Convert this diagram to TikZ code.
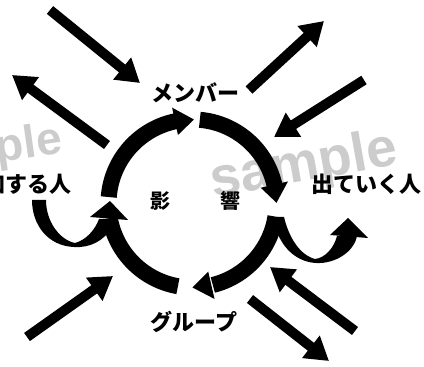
\documentclass[tikz,border=0pt]{standalone}
\usepackage{fontspec}
\newfontfamily\jp{Noto Sans CJK JP}
\newfontfamily\wm{Liberation Sans}
\usetikzlibrary{arrows.meta,calc}
\begin{document}
\begin{tikzpicture}[x=1pt,y=1pt,
  lbl/.style={font=\jp\bfseries\fontsize{22pt}{22pt}\selectfont, inner sep=0pt},
  kan/.style={font=\jp\bfseries\fontsize{20pt}{20pt}\selectfont, inner sep=0pt},
  wmark/.style={font=\wm\bfseries\fontsize{55pt}{55pt}\selectfont, text=black!20, inner sep=0pt},
  band/.style={line width=16pt},
  flow/.style={line width=10pt, -{Triangle[width=27pt,length=23pt]}},
  ink/.style={fill=black}]
\useasboundingbox (0,0) rectangle (424,367);
% watermarks
\node[wmark, rotate=10] (wmr) at (304,200) {sample};
\node[wmark, rotate=8, anchor=base east, font=\wm\bfseries\fontsize{46pt}{46pt}\selectfont] (wml) at (64,214) {sample};
% circle of influence
\coordinate (C) at (192.5,163.5);
\draw[band] ($(C)+(175.6:84pt)$) arc[start angle=175.6,end angle=101,radius=84pt];
\fill[ink] ($(C)+(102:70pt)$) -- ($(C)+(89:84pt)$) -- ($(C)+(102:98pt)$) -- cycle;
\draw[band] ($(C)+(85:84pt)$) arc[start angle=85,end angle=12,radius=84pt];
\fill[ink] ($(C)+(13:70pt)$) -- ($(C)+(0.5:84pt)$) -- ($(C)+(13:98pt)$) -- cycle;
\draw[band] ($(C)+(-9:84pt)$) arc[start angle=-9,end angle=-76,radius=84pt];
\fill[ink] ($(C)+(-77:70pt)$) -- ($(C)+(-90:84pt)$) -- ($(C)+(-77:98pt)$) -- cycle;
\draw[band] ($(C)+(-100:84pt)$) arc[start angle=-100,end angle=-170,radius=84pt];
\fill[ink] (90,150) -- (110,166) -- (128,147) -- cycle;
% joining branch (left)
\fill[ink] (32,167) -- (46,167) .. controls (46,145) and (60,127) .. (75,124)
  .. controls (86,127) and (95,137) .. (99,148) -- (112,148) -- (112,140)
  .. controls (104,126) and (90,119) .. (74,120)
  .. controls (48,121) and (32,142) .. (32,167) -- cycle;
% leaving branch (right)
\fill[ink] (276,150) -- (284,150) .. controls (289,129) and (300,112) .. (315,108)
  .. controls (325,109) and (334,119) .. (337,131) -- (357,131)
  .. controls (354,115) and (335,103) .. (316,104)
  .. controls (298,105) and (284,117) .. (277,135) -- cycle;
\fill[ink] (330,132) -- (348,149) -- (368,129) -- cycle;
% straight flows
\coordinate (a1s) at (50,357);  \coordinate (a1e) at (140,284);
\coordinate (a2s) at (107,222); \coordinate (a2e) at (12,292);
\coordinate (a3s) at (249,277); \coordinate (a3e) at (324,346);
\coordinate (a4s) at (364,287); \coordinate (a4e) at (274,230);
\coordinate (a5s) at (27,30);   \coordinate (a5e) at (113,91);
\coordinate (a6s) at (355,36);  \coordinate (a6e) at (270,100);
\coordinate (a7s) at (250,68);  \coordinate (a7e) at (329,6);
\foreach \i in {1,...,7} {\draw[flow] (a\i s) -- (a\i e);}
% labels
\node[lbl] (mem) at (195,274) {メンバー};
\node[lbl] (grp) at (194,45) {グループ};
\node[lbl] (out) at (366,183) {出ていく人};
\node[lbl, anchor=east] (join) at (72,183) {参加する人};
\node[kan] (ei) at (160,166) {影};
\node[kan] (kyo) at (230,166) {響};
\end{tikzpicture}
\end{document}
